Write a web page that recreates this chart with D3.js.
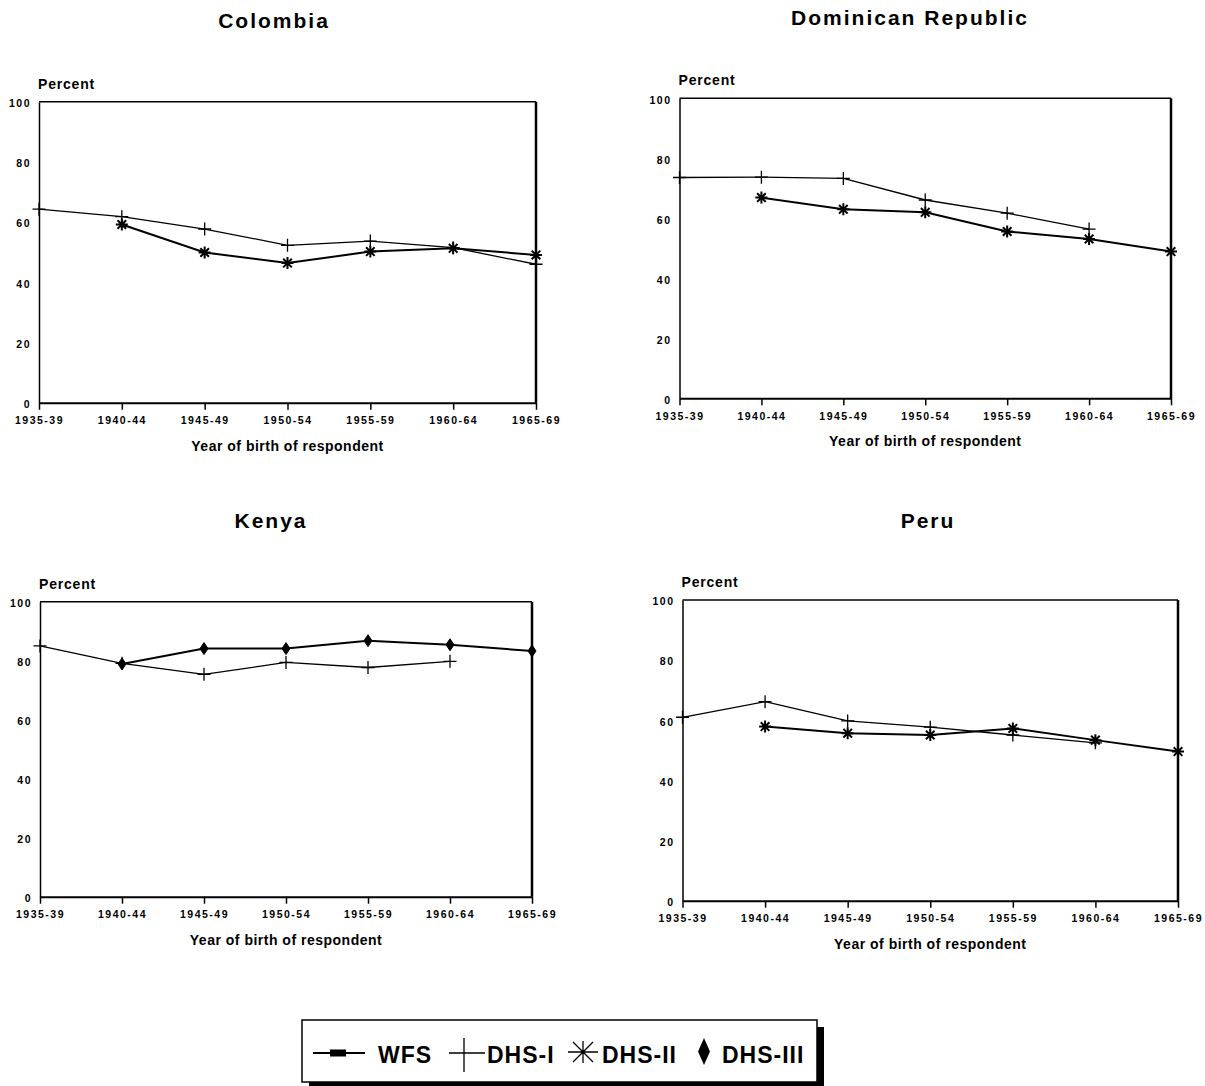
<!DOCTYPE html>
<html>
<head>
  <meta charset="utf-8">
  <title>Cohort trends</title>
  <style>
    body { margin: 0; background: #fff; }
    svg text { font-family: "Liberation Sans", Arial, sans-serif; font-weight: bold; fill: #000; }
  </style>
</head>
<body>
  <svg width="1205" height="1086"></svg>
  <script src="https://cdnjs.cloudflare.com/ajax/libs/d3/7.8.5/d3.min.js"></script>
  <script>
    // birth cohorts (x categories) and y ticks
    const cohorts = ["1935-39", "1940-44", "1945-49", "1950-54", "1955-59", "1960-64", "1965-69"];
    const yTicks = [0, 20, 40, 60, 80, 100];

    // values (percent), null = no point
    const colombiaDHS1 = [64.3, 61.8, 57.7, 52.3, 53.7, 51.5, 46.0];
    const colombiaDHS2 = [null, 59.2, 49.9, 46.4, 50.2, 51.3, 49.1];
    const dominicanDHS1 = [73.6, 73.7, 73.3, 66.1, 61.7, 56.4, null];
    const dominicanDHS2 = [null, 66.9, 63.0, 62.0, 55.6, 53.1, 48.9];
    const kenyaDHS1 = [85.0, 79.1, 75.4, 79.4, 77.7, 79.8, null];
    const kenyaDHS3 = [null, 78.9, 84.1, 84.1, 86.8, 85.4, 83.3];
    const peruDHS1 = [61.0, 66.2, 59.8, 57.7, 55.1, 52.5, null];
    const peruDHS2 = [null, 57.9, 55.7, 55.1, 57.3, 53.4, 49.6];

    const legendLabels = ["WFS", "DHS-I", "DHS-II", "DHS-III"];

    const svg = d3.select("svg");

    // marker shapes
    const markers = {
      cross: "M-6.5,0H6.5M0,-6.5V6.5",
      star: "M-6,0H6M0,-6V6M-4.3,-4.3L4.3,4.3M-4.3,4.3L4.3,-4.3",
      diamond: "M0,-6L4,0L0,6L-4,0Z"
    };
    const styles = {
      "DHS-I": { width: 1.3, marker: "cross", mw: 1.3 },
      "DHS-II": { width: 2, marker: "star", mw: 2 },
      "DHS-III": { width: 2, marker: "diamond", mw: 1 }
    };

    const panels = [
      { title: "Colombia", tx: 274, ty: 28, x0: 39, x1: 536, y0: 101.7, y1: 402.7,
        series: [["DHS-I", colombiaDHS1], ["DHS-II", colombiaDHS2]] },
      { title: "Dominican Republic", tx: 910, ty: 25, x0: 679.5, x1: 1171, y0: 98.3, y1: 398.3,
        series: [["DHS-I", dominicanDHS1], ["DHS-II", dominicanDHS2]] },
      { title: "Kenya", tx: 271, ty: 528, x0: 40, x1: 532, y0: 601.7, y1: 896.7,
        series: [["DHS-I", kenyaDHS1], ["DHS-III", kenyaDHS3]] },
      { title: "Peru", tx: 928, ty: 528, x0: 682.5, x1: 1178, y0: 600, y1: 900.7,
        series: [["DHS-I", peruDHS1], ["DHS-II", peruDHS2]] }
    ];

    panels.forEach(p => {
      const g = svg.append("g");
      const x = d3.scalePoint().domain(cohorts).range([p.x0, p.x1]);
      const y = d3.scaleLinear().domain([0, 100]).range([p.y1, p.y0]);

      g.append("text").attr("x", p.tx).attr("y", p.ty)
        .attr("text-anchor", "middle").attr("font-size", 21)
        .attr("letter-spacing", 2).text(p.title);

      g.append("text").attr("x", p.x0 - 1).attr("y", p.y0 - 13)
        .attr("font-size", 14).attr("letter-spacing", 0.8).text("Percent");

      // frame: top and right
      g.append("line").attr("x1", p.x0).attr("x2", p.x1).attr("y1", p.y0).attr("y2", p.y0)
        .attr("stroke", "#000").attr("stroke-width", 1.5);
      g.append("line").attr("x1", p.x1).attr("x2", p.x1).attr("y1", p.y0).attr("y2", p.y1)
        .attr("stroke", "#000").attr("stroke-width", 2.5);

      const xa = g.append("g").attr("transform", `translate(0,${p.y1})`)
        .call(d3.axisBottom(x).tickSize(7).tickSizeOuter(0).tickPadding(7));
      xa.select(".domain").attr("stroke-width", 2);
      xa.selectAll(".tick line").attr("stroke-width", 1.5);
      xa.selectAll("text").attr("font-size", 10.5).attr("letter-spacing", 1.5)
        .attr("font-family", null);

      const ya = g.append("g").attr("transform", `translate(${p.x0},0)`)
        .call(d3.axisLeft(y).tickValues(yTicks).tickSize(0).tickPadding(8));
      ya.select(".domain").attr("stroke-width", 1.5);
      ya.selectAll("text").attr("font-size", 10.5).attr("letter-spacing", 1.5)
        .attr("font-family", null).attr("dy", "0.45em");

      g.append("text").attr("x", (p.x0 + p.x1) / 2).attr("y", p.y1 + 48)
        .attr("text-anchor", "middle").attr("font-size", 14)
        .attr("letter-spacing", 0.5).text("Year of birth of respondent");

      const line = d3.line()
        .defined(d => d.v != null)
        .x(d => x(d.c)).y(d => y(d.v));

      p.series.forEach(([name, vals]) => {
        const st = styles[name];
        const pts = cohorts.map((c, i) => ({ c: c, v: vals[i] }));
        g.append("path").datum(pts).attr("d", line)
          .attr("fill", "none").attr("stroke", "#000")
          .attr("stroke-width", st.width).attr("stroke-linejoin", "round");
        g.selectAll(null).data(pts.filter(d => d.v != null)).enter()
          .append("path")
          .attr("transform", d => `translate(${x(d.c)},${y(d.v)})`)
          .attr("d", markers[st.marker])
          .attr("fill", st.marker === "diamond" ? "#000" : "none")
          .attr("stroke", "#000").attr("stroke-width", st.mw);
      });
    });

    // legend
    const lg = svg.append("g");
    lg.append("rect").attr("x", 309).attr("y", 1027).attr("width", 515).attr("height", 62).attr("fill", "#000");
    lg.append("rect").attr("x", 302).attr("y", 1020).attr("width", 515).attr("height", 62)
      .attr("fill", "#fff").attr("stroke", "#000").attr("stroke-width", 1.5);

    const ly = 1053;
    lg.append("line").attr("x1", 313).attr("x2", 365).attr("y1", ly).attr("y2", ly)
      .attr("stroke", "#000").attr("stroke-width", 2);
    lg.append("rect").attr("x", 330).attr("y", ly - 3.5).attr("width", 16).attr("height", 7).attr("fill", "#000");
    lg.append("path").attr("d", "M449,1053H485M464,1038V1072").attr("stroke", "#000").attr("stroke-width", 1.3);
    lg.append("path").attr("transform", "translate(583,1052)")
      .attr("d", "M-15,0H15M0,-11V11M-10,-10L10,10M-10,10L10,-10")
      .attr("stroke", "#000").attr("stroke-width", 1.3).attr("fill", "none");
    lg.append("path").attr("d", "M704,1038L710,1051.5L704,1065L698,1051.5Z").attr("fill", "#000");

    const lx = [378, 487, 602, 722];
    lg.selectAll("text.lab").data(legendLabels).enter().append("text")
      .attr("class", "lab")
      .attr("x", (d, i) => lx[i]).attr("y", 1063)
      .attr("font-size", 23).attr("letter-spacing", 1)
      .text(d => d);
  </script>
</body>
</html>
